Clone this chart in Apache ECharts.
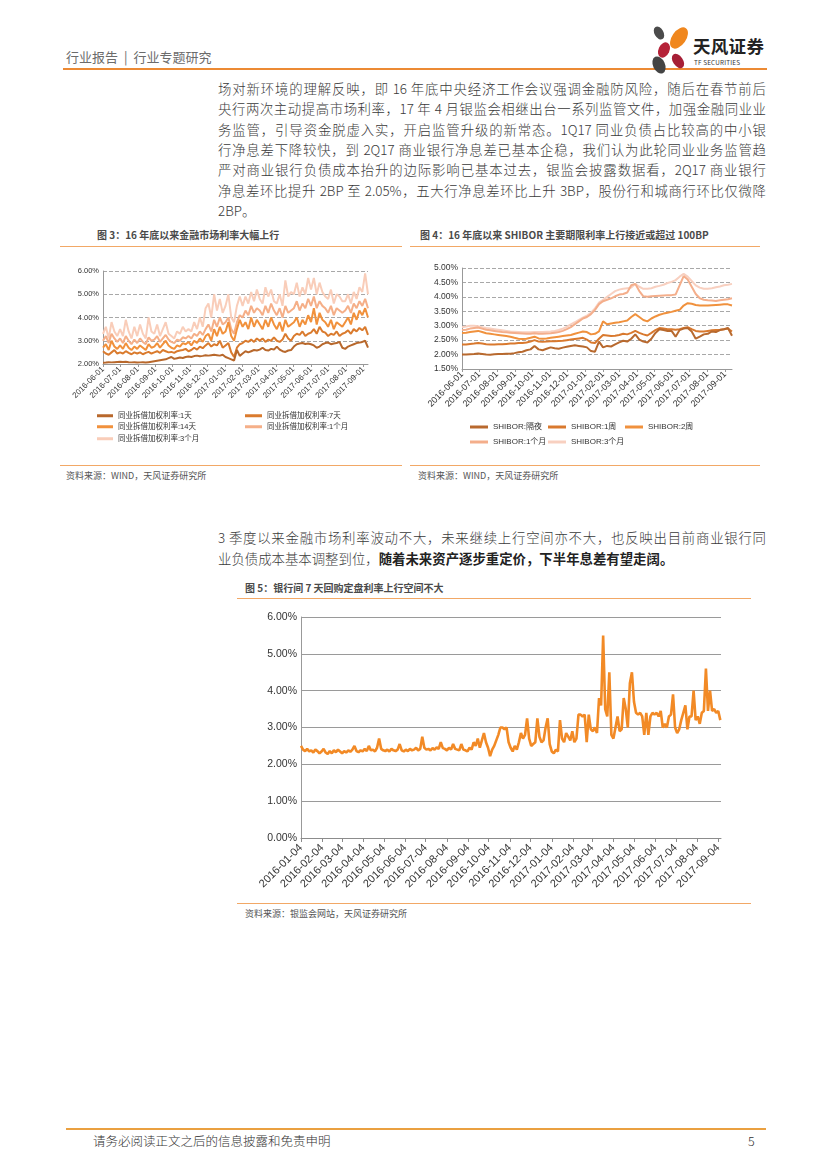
<!DOCTYPE html>
<html><head><meta charset="utf-8">
<script src="https://cdn.jsdelivr.net/npm/echarts@6/dist/echarts.min.js"></script>
<style>
html,body{margin:0;padding:0;background:#fff;}
body{width:827px;height:1169px;position:relative;overflow:hidden;font-family:"Noto Sans CJK SC","Liberation Sans",sans-serif;color:#333;}
.abs{position:absolute;}
.ln{position:absolute;left:218px;width:548px;height:20px;line-height:20px;font-size:13.4px;white-space:nowrap;color:#3a3a3a;font-weight:300;}
.j{text-align:justify;text-align-last:justify;}
.hr{position:absolute;height:0;}
.ttl{position:absolute;font-size:10px;font-weight:bold;color:#4a4a4a;line-height:12px;white-space:nowrap;}
.src{position:absolute;font-size:9px;color:#555;line-height:12px;white-space:nowrap;}
</style></head>
<body>
<!-- header -->
<div class="abs" style="left:66px;top:49px;font-size:13px;color:#6b6b6b;line-height:16px;white-space:nowrap;">行业报告<span style="margin:0 6px;">|</span>行业专题研究</div>
<div class="hr" style="left:63px;top:68px;width:704px;border-top:2px solid #EC8A34;"></div>
<svg class="abs" style="left:648px;top:24px" width="44" height="52" viewBox="0 0 44 52">
  <ellipse cx="11" cy="9" rx="4.5" ry="7" transform="rotate(-30 11 9)" fill="#4b4b4b"/>
  <ellipse cx="31" cy="14" rx="7" ry="12" transform="rotate(35 31 14)" fill="#F0871E"/>
  <ellipse cx="16" cy="26" rx="5.5" ry="8" transform="rotate(25 16 26)" fill="#B52238"/>
  <ellipse cx="11" cy="41" rx="6" ry="9" transform="rotate(-25 11 41)" fill="#444"/>
  <ellipse cx="30" cy="37" rx="5" ry="8" transform="rotate(-35 30 37)" fill="#A61F36"/>
</svg>
<div class="abs" style="left:693px;top:36px;font-size:17.5px;font-weight:bold;color:#222;line-height:20px;letter-spacing:0.3px;">天风证券</div>
<div class="abs" style="left:694px;top:59px;font-size:6.3px;color:#333;line-height:8px;letter-spacing:0.2px;">TF SECURITIES</div>

<!-- paragraph 1 -->
<div class="ln j" style="top:78px">场对新环境的理解反映，即 16 年底中央经济工作会议强调金融防风险，随后在春节前后</div>
<div class="ln j" style="top:98.3px">央行两次主动提高市场利率，17 年 4 月银监会相继出台一系列监管文件，加强金融同业业</div>
<div class="ln j" style="top:118.6px">务监管，引导资金脱虚入实，开启监管升级的新常态。1Q17 同业负债占比较高的中小银</div>
<div class="ln j" style="top:138.9px">行净息差下降较快，到 2Q17 商业银行净息差已基本企稳，我们认为此轮同业业务监管趋</div>
<div class="ln j" style="top:159.2px">严对商业银行负债成本抬升的边际影响已基本过去，银监会披露数据看，2Q17 商业银行</div>
<div class="ln j" style="top:179.5px">净息差环比提升 2BP 至 2.05%，五大行净息差环比上升 3BP，股份行和城商行环比仅微降</div>
<div class="ln" style="top:199.8px">2BP。</div>

<!-- figure 3 / 4 titles -->
<div class="ttl" style="left:97px;top:229px">图 3：16 年底以来金融市场利率大幅上行</div>
<div class="hr" style="left:60px;top:246px;width:342px;border-top:1px solid #F2A866;"></div>
<div class="ttl" style="left:420px;top:229px">图 4：16 年底以来 SHIBOR 主要期限利率上行接近或超过 100BP</div>
<div class="hr" style="left:410px;top:246px;width:350px;border-top:1px solid #F2A866;"></div>

<div id="c3" class="abs" style="left:60px;top:250px;width:345px;height:210px"></div>
<div id="c4" class="abs" style="left:410px;top:250px;width:355px;height:210px"></div>

<div class="hr" style="left:60px;top:465px;width:342px;border-top:1px solid #F2A866;"></div>
<div class="src" style="left:66px;top:470px">资料来源：WIND，天风证券研究所</div>
<div class="hr" style="left:410px;top:465px;width:350px;border-top:1px solid #F2A866;"></div>
<div class="src" style="left:418px;top:470px">资料来源：WIND，天风证券研究所</div>

<!-- paragraph 2 -->
<div class="ln j" style="top:527px">3 季度以来金融市场利率波动不大，未来继续上行空间亦不大，也反映出目前商业银行同</div>
<div class="ln" style="top:547.5px">业负债成本基本调整到位，<b style="color:#222;font-weight:bold">随着未来资产逐步重定价，下半年息差有望走阔。</b></div>

<!-- figure 5 -->
<div class="ttl" style="left:245px;top:582px">图 5：银行间 7 天回购定盘利率上行空间不大</div>
<div class="hr" style="left:237px;top:598px;width:514px;border-top:1px solid #F2A866;"></div>
<div id="c5" class="abs" style="left:236px;top:600px;width:520px;height:300px"></div>
<div class="hr" style="left:237px;top:903px;width:514px;border-top:1px solid #F2A866;"></div>
<div class="src" style="left:245px;top:908px">资料来源：银监会网站，天风证券研究所</div>

<!-- footer -->
<div class="hr" style="left:66px;top:1128px;width:700px;border-top:2px solid #EAA040;"></div>
<div class="abs" style="left:93px;top:1133px;font-size:12.5px;color:#333;line-height:16px;font-weight:300;">请务必阅读正文之后的信息披露和免责申明</div>
<div class="abs" style="left:748px;top:1133px;font-size:12.5px;color:#333;line-height:16px;font-weight:300;">5</div>

<script>
// ---------------- DATA ----------------
// Figure 3: interbank weighted rates, sampled every 5 days from 2016-06-01
const c3Start = '2016-06-01', c3Step = 5, c3End = '2017-09-09';
const c3Names = ['同业拆借加权利率:1天','同业拆借加权利率:7天','同业拆借加权利率:14天','同业拆借加权利率:1个月','同业拆借加权利率:3个月'];
const c3Ticks = ['2016-06-01','2016-07-01','2016-08-01','2016-09-01','2016-10-01','2016-11-01','2016-12-01','2017-01-01','2017-02-01','2017-03-01','2017-04-01','2017-05-01','2017-06-01','2017-07-01','2017-08-01','2017-09-01'];
const c3_1d = [2.05,2.06,2.08,2.07,2.08,2.09, 2.10,2.09,2.10,2.08,2.07,2.08, 2.06,2.07,2.08,2.06,2.08,2.10, 2.12,2.14,2.16,2.18,2.20,2.25,
  2.30,2.22,2.25,2.28,2.26,2.30,2.32, 2.30,2.34,2.36,2.33,2.35,2.38, 2.36,2.38,2.40,2.38,2.36,2.40, 2.30,2.25,2.20,2.15,2.60,2.35,
  2.45,2.55,2.50,2.55,2.60,2.58, 2.62,2.70,2.60,2.58,2.65,2.62, 2.75,2.62,2.55,2.52,2.58,2.60, 2.75,2.85,2.88,2.90,2.86,2.88,
  2.85,2.80,2.70,2.75,2.85,2.90, 2.92,2.85,2.88,2.90,2.95,2.70, 2.65,2.75,2.80,2.85,2.90,2.92,2.95, 3.00,2.70];
const c3_7d = [2.55,2.45,2.40,2.50,2.60,2.45, 2.50,2.45,2.55,2.48,2.42,2.50, 2.45,2.50,2.42,2.48,2.52,2.45, 2.50,2.55,2.48,2.60,2.55,2.50,
  2.52,2.48,2.55,2.58,2.60,2.65,2.55, 2.60,2.70,2.62,2.75,2.68,2.80, 2.90,2.75,2.85,2.80,3.00,2.70, 2.80,2.90,2.50,2.30,2.70,2.85,
  2.90,3.00,2.95,3.05,2.95,3.10, 3.00,3.10,2.95,3.05,3.00,3.15, 3.00,2.95,3.05,3.30,3.10,3.00, 3.20,3.30,3.25,3.40,3.20,3.30,
  3.35,3.50,3.30,3.60,3.40,3.35, 3.20,3.30,3.25,3.40,3.20,3.30, 3.35,3.45,3.30,3.50,3.40,3.55,3.45, 3.60,3.25];
const c3_14d = [2.70,2.85,2.60,3.00,2.75,2.65, 2.80,2.65,2.90,2.70,2.60,2.75, 2.65,2.80,2.70,2.60,2.85,2.70, 2.75,2.90,2.70,2.85,3.00,2.80,
  2.70,2.65,2.80,2.75,2.90,2.85,2.95, 2.80,3.00,2.90,3.10,2.95,3.20, 3.30,3.00,3.50,3.20,3.60,3.30, 3.40,3.80,3.20,3.00,3.50,3.90,
  3.60,3.80,3.50,4.00,3.60,3.90, 3.70,3.50,3.90,3.60,4.00,3.70, 3.50,3.80,3.40,3.90,3.60,3.70, 3.80,4.00,3.60,3.90,3.70,4.10,
  3.80,4.40,3.70,4.20,3.90,3.80, 3.60,3.90,3.50,3.80,3.70,3.60, 3.80,4.00,3.70,4.20,3.90,4.30,4.10, 4.40,4.00];
const c3_1m = [3.00,3.20,2.90,3.30,3.10,2.95, 3.10,2.90,3.20,3.00,2.85,3.05, 2.90,3.10,2.95,2.85,3.15,3.00, 3.05,3.20,2.95,3.10,3.25,3.05,
  2.95,2.90,3.05,3.00,3.15,3.10,3.20, 3.10,3.30,3.20,3.40,3.25,3.50, 3.70,3.40,3.90,3.60,4.00,3.70, 3.80,4.00,3.50,3.30,3.80,4.10,
  4.00,4.30,4.10,4.50,4.20,4.40, 4.30,4.10,4.50,4.20,4.60,4.30, 4.10,4.40,4.00,4.50,4.20,4.30, 4.40,4.70,4.30,4.60,4.40,4.80,
  4.50,4.90,4.40,4.70,4.50,4.40, 4.20,4.50,4.10,4.40,4.30,4.20, 4.30,4.50,4.20,4.60,4.40,4.70,4.50, 4.80,4.40];
const c3_3m = [3.30,3.60,3.10,3.80,3.40,3.20, 3.50,3.20,3.90,3.40,3.10,3.60, 3.20,3.70,3.30,3.10,4.00,3.40, 3.30,3.70,3.20,3.50,3.80,3.30,
  3.20,3.10,3.40,3.30,3.60,3.40,3.50, 3.40,3.80,3.50,4.00,3.60,4.40, 4.60,4.00,5.00,4.30,4.80,4.20, 4.50,5.00,4.00,3.80,4.50,4.90,
  4.50,4.90,4.60,5.10,4.70,5.20, 4.80,4.60,5.30,4.90,5.20,4.70, 4.60,5.00,4.50,5.60,4.90,5.10, 5.00,5.50,4.90,5.30,5.00,5.70,
  5.20,5.70,5.00,5.50,5.10,4.90, 4.80,5.20,4.60,5.00,4.90,4.70, 4.70,5.00,4.60,5.10,4.80,5.30,5.10, 5.90,5.00];

// Figure 4: SHIBOR, sampled weekly from 2016-06-01
const c4Start = '2016-06-01', c4Step = 7, c4End = '2017-09-13';
const c4Names = ['SHIBOR:隔夜','SHIBOR:1周','SHIBOR:2周','SHIBOR:1个月','SHIBOR:3个月'];
const c4Ticks = ['2016-06-01','2016-07-01','2016-08-01','2016-09-01','2016-10-01','2016-11-01','2016-12-01','2017-01-01','2017-02-01','2017-03-01','2017-04-01','2017-05-01','2017-06-01','2017-07-01','2017-08-01','2017-09-01'];
const c4_on = [2.00,2.00,2.01,2.02,2.04,2.02,2.00,1.99,2.01,2.02,2.02,2.03,2.03,2.05,2.08,2.10,2.15,2.18,2.30,2.18,2.15,2.20,2.25,2.22,2.20,2.24,2.27,2.30,2.32,2.30,2.28,2.25,2.12,2.10,2.45,2.25,2.30,2.28,2.35,2.42,2.48,2.45,2.55,2.70,2.52,2.45,2.42,2.55,2.75,2.88,2.85,2.82,2.82,2.62,2.85,2.90,2.92,2.80,2.55,2.62,2.70,2.72,2.80,2.78,2.85,2.88,2.92,2.65];
const c4_1w = [2.35,2.35,2.37,2.38,2.40,2.38,2.36,2.35,2.35,2.36,2.36,2.37,2.38,2.38,2.40,2.40,2.42,2.45,2.50,2.45,2.44,2.45,2.46,2.46,2.47,2.48,2.50,2.52,2.54,2.56,2.58,2.52,2.42,2.40,2.55,2.68,2.66,2.64,2.65,2.68,2.72,2.70,2.75,2.82,2.75,2.70,2.66,2.75,2.85,2.92,2.90,2.88,2.88,2.86,2.88,2.92,2.95,2.88,2.82,2.80,2.80,2.82,2.84,2.85,2.86,2.88,2.90,2.80];
const c4_2w = [2.75,2.76,2.78,2.80,2.82,2.78,2.74,2.72,2.70,2.68,2.66,2.64,2.62,2.58,2.55,2.54,2.55,2.58,2.62,2.56,2.55,2.56,2.58,2.60,2.62,2.64,2.66,2.68,2.72,2.76,2.80,2.78,2.70,2.72,2.80,3.15,3.05,3.08,3.10,3.12,3.15,3.18,3.30,3.40,3.30,3.20,3.15,3.25,3.32,3.38,3.42,3.45,3.48,3.52,3.55,3.70,3.78,3.76,3.72,3.70,3.70,3.70,3.71,3.72,3.73,3.74,3.74,3.70];
const c4_1m = [2.85,2.86,2.90,2.92,2.94,2.90,2.86,2.84,2.82,2.80,2.78,2.77,2.76,2.75,2.74,2.73,2.72,2.72,2.74,2.72,2.72,2.73,2.74,2.76,2.78,2.82,2.88,2.95,3.05,3.15,3.25,3.30,3.40,3.55,3.75,3.85,3.90,3.95,4.02,4.08,4.10,4.15,4.40,4.45,4.20,4.02,4.00,4.02,4.03,4.04,4.05,4.06,4.06,4.08,4.40,4.72,4.60,4.35,4.10,3.95,3.90,3.88,3.87,3.86,3.88,3.90,3.92,3.95];
const c4_3m = [2.95,2.97,3.00,3.00,2.98,2.95,2.92,2.90,2.88,2.86,2.84,2.82,2.80,2.79,2.78,2.77,2.77,2.77,2.78,2.78,2.78,2.79,2.80,2.82,2.85,2.90,2.96,3.05,3.12,3.20,3.28,3.35,3.45,3.60,3.80,3.90,4.00,4.10,4.20,4.25,4.28,4.30,4.32,4.45,4.35,4.28,4.28,4.30,4.35,4.38,4.42,4.48,4.52,4.58,4.70,4.80,4.70,4.55,4.40,4.32,4.28,4.28,4.30,4.33,4.36,4.40,4.42,4.45];

// Figure 5: interbank 7-day repo fixing, sampled every 3 days from 2016-01-04
const c5Start = '2016-01-04', c5Step = 3, c5End = '2017-09-08';
const c5Ticks = ['2016-01-04','2016-02-04','2016-03-04','2016-04-04','2016-05-04','2016-06-04','2016-07-04','2016-08-04','2016-09-04','2016-10-04','2016-11-04','2016-12-04','2017-01-04','2017-02-04','2017-03-04','2017-04-04','2017-05-04','2017-06-04','2017-07-04','2017-08-04','2017-09-04'];
const c5_fr007 = [
  2.50,2.40,2.36,2.42,2.35,2.38,2.32,2.40,2.36,2.30,
  2.35,2.42,2.32,2.28,2.36,2.30,2.38,2.33,2.40,2.35,
  2.30,2.36,2.32,2.38,2.34,2.40,2.50,2.36,2.33,2.38,
  2.35,2.42,2.36,2.50,2.38,2.40,2.35,2.45,2.70,2.42,
  2.38,2.36,2.40,2.35,2.42,2.38,2.36,2.40,2.55,2.38,
  2.35,2.40,2.36,2.42,2.38,2.40,2.45,2.38,2.42,2.75,
  2.45,2.40,2.42,2.38,2.44,2.40,2.46,2.42,2.60,2.44,
  2.42,2.38,2.45,2.40,2.55,2.42,2.40,2.38,2.55,2.40,
  2.38,2.35,2.45,2.40,2.60,2.50,2.70,2.45,2.65,2.85,
  2.60,2.45,2.22,2.40,2.50,2.65,2.80,3.00,3.00,2.95,
  3.00,2.60,2.45,2.35,2.50,2.40,2.60,2.85,2.70,2.80,
  3.25,2.70,2.50,2.55,2.60,3.25,2.75,2.60,2.65,3.00,
  3.25,2.55,2.35,2.30,2.40,2.35,3.20,2.70,2.60,2.85,
  2.75,2.65,2.90,2.60,2.70,3.35,3.35,3.30,3.35,2.60,
  3.35,2.95,2.90,3.00,2.85,3.80,3.60,5.50,3.50,3.30,
  4.50,2.80,2.70,3.00,3.30,2.90,2.95,3.80,3.50,3.00,
  4.20,4.50,3.70,3.40,3.35,3.40,3.30,2.80,3.40,2.80,
  3.30,3.40,3.35,3.40,3.30,3.45,3.00,3.10,3.00,3.30,
  3.35,3.90,3.00,2.85,2.95,3.20,3.40,3.60,2.95,3.30,
  3.30,4.00,3.20,3.30,3.10,3.40,3.45,4.60,3.45,4.00,
  3.45,3.50,3.40,3.45,3.20];

// ---------------- HELPERS ----------------
function ts(s){const p=s.split('-');return new Date(+p[0],+p[1]-1,+p[2]).getTime();}
function buildDates(start, step, n){const t0=ts(start);const out=[];for(let i=0;i<n;i++){const d=new Date(t0);d.setDate(d.getDate()+i*step);out.push(d.getTime());}return out;}
function fmtDate(v){const d=new Date(v);const m=d.getMonth()+1, dd=d.getDate();return d.getFullYear()+'-'+(m<10?'0':'')+m+'-'+(dd<10?'0':'')+dd;}
const FONT = '"Liberation Sans","Noto Sans CJK SC",sans-serif';

// date axis drawn as a numeric (timestamp) value axis with custom month ticks
function dateAxis(start,end,ticks,fs,tickColor,tickLen,margin){
  const tv = ticks.map(ts);
  return {type:'value', min:ts(start), max:ts(end), scale:true,
    axisLine:{show:true, lineStyle:{color:tickColor,width:1}},
    axisTick:{show:true, customValues:tv, length:tickLen, lineStyle:{color:tickColor}},
    axisLabel:{show:true, customValues:tv, formatter:function(v){return fmtDate(v);}, rotate:45, fontSize:fs, color:'#333', margin:margin, fontFamily:FONT, hideOverlap:false, showMinLabel:true, showMaxLabel:true},
    splitLine:{show:false}};
}
function valAxis(min,max,interval,fs,dashed,gridColor){
  return {type:'value', min:min, max:max, interval:interval,
    axisLine:{show:true, lineStyle:{color:'#999'}}, axisTick:{show:false},
    axisLabel:{formatter:function(v){return v.toFixed(2)+'%';}, fontSize:fs, color:'#333', margin:4, fontFamily:FONT},
    splitLine:{show:true, lineStyle:{color:gridColor, type:dashed?'dashed':'solid', width:1}}};
}
function legendItem(name,left,top,fs,w){
  return {data:[name], left:left, top:top, padding:0, itemWidth:w, itemHeight:3, icon:'rect',
    textStyle:{fontSize:fs, color:'#333', fontFamily:FONT}, itemGap:4, selectedMode:false};
}

// ---------------- FIGURE 3 ----------------
(function(){
  const ch = echarts.init(document.getElementById('c3'), null, {renderer:'canvas'});
  const dates = buildDates(c3Start, c3Step, c3_1d.length);
  const vals = [c3_1d, c3_7d, c3_14d, c3_1m, c3_3m];
  const colors = ['#B8682C','#DA7B2E','#F1913C','#F5AF88','#F9CDB9'];
  const series = vals.map((v,k)=>({name:c3Names[k], type:'line', showSymbol:false, symbol:'none',
    data: dates.map((d,i)=>[d, v[i]]), lineStyle:{width:2, color:colors[k]}, itemStyle:{color:colors[k]}, z: 10-k, animation:false}));
  ch.setOption({
    animation:false,
    textStyle:{fontFamily:FONT},
    grid:{left:43, top:21, width:265, height:93, containLabel:false},
    xAxis: dateAxis(c3Start, c3End, c3Ticks, 8, '#999', 3, 4),
    yAxis: valAxis(2, 6, 1, 7.5, true, '#A8A8A8'),
    legend:[
      legendItem(c3Names[0], 37, 162, 7.5, 16),
      legendItem(c3Names[1], 185, 162, 7.5, 17),
      legendItem(c3Names[2], 37, 173, 7.5, 16),
      legendItem(c3Names[3], 185, 173, 7.5, 17),
      legendItem(c3Names[4], 37, 185, 7.5, 16)
    ],
    series: series
  });
})();

// ---------------- FIGURE 4 ----------------
(function(){
  const ch = echarts.init(document.getElementById('c4'), null, {renderer:'canvas'});
  const dates = buildDates(c4Start, c4Step, c4_on.length);
  const vals = [c4_on, c4_1w, c4_2w, c4_1m, c4_3m];
  const colors = ['#B8692E','#D9792E','#F0913D','#F4AE8B','#F8D0C0'];
  const series = vals.map((v,k)=>({name:c4Names[k], type:'line', showSymbol:false, symbol:'none',
    data: dates.map((d,i)=>[d, v[i]]), lineStyle:{width:2, color:colors[k]}, itemStyle:{color:colors[k]}, z: 10-k, animation:false}));
  ch.setOption({
    animation:false,
    textStyle:{fontFamily:FONT},
    grid:{left:52, top:18, width:270, height:101, containLabel:false},
    xAxis: dateAxis(c4Start, c4End, c4Ticks, 9, '#999', 3, 4),
    yAxis: valAxis(1.5, 5, 0.5, 8.5, true, '#A8A8A8'),
    legend:[
      legendItem(c4Names[0], 60, 173, 8, 18),
      legendItem(c4Names[1], 138, 173, 8, 18),
      legendItem(c4Names[2], 215, 173, 8, 18),
      legendItem(c4Names[3], 60, 188, 8, 18),
      legendItem(c4Names[4], 138, 188, 8, 18)
    ],
    series: series
  });
})();

// ---------------- FIGURE 5 ----------------
(function(){
  const ch = echarts.init(document.getElementById('c5'), null, {renderer:'canvas'});
  const dates = buildDates(c5Start, c5Step, c5_fr007.length);
  ch.setOption({
    animation:false,
    textStyle:{fontFamily:FONT},
    grid:{left:65, top:17, width:420, height:221, containLabel:false},
    xAxis: dateAxis(c5Start, c5End, c5Ticks, 11, '#8c8c8c', 4, 8),
    yAxis: valAxis(0, 6, 1, 10.5, false, '#9a9a9a'),
    series:[{name:'7天回购定盘利率', type:'line', showSymbol:false, symbol:'none',
      data: dates.map((d,i)=>[d, c5_fr007[i]]), lineStyle:{width:2.6, color:'#F28A26'}, animation:false}]
  });
})();
</script>
</body></html>
